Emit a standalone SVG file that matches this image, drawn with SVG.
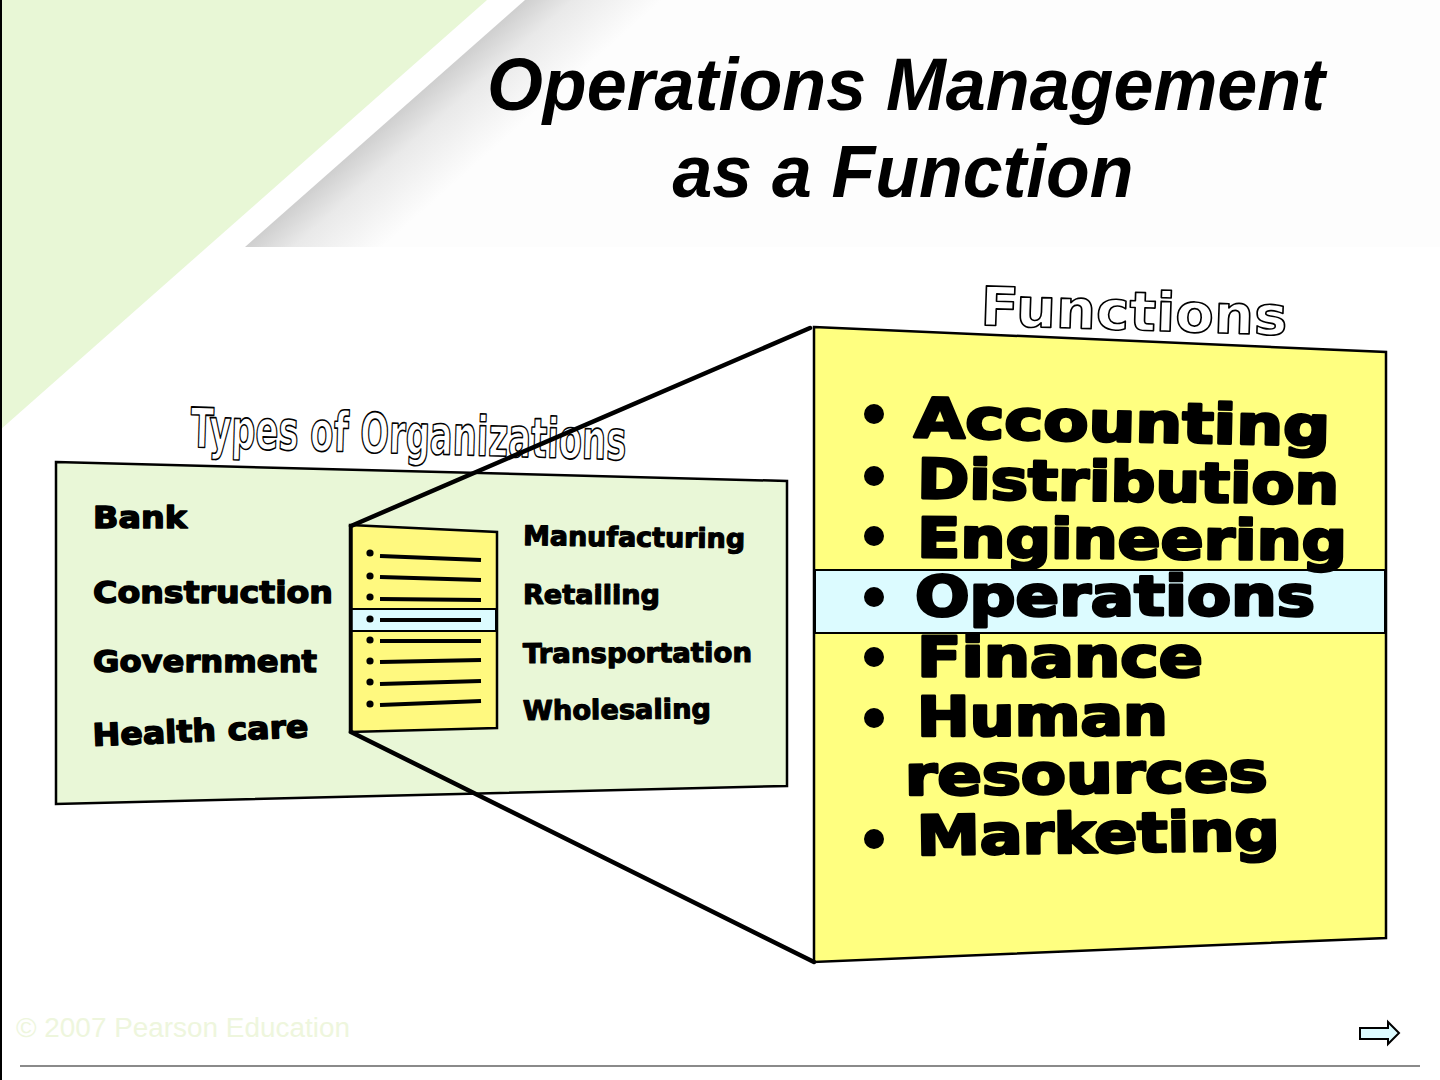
<svg xmlns="http://www.w3.org/2000/svg" width="1440" height="1080" viewBox="0 0 1440 1080">
  <defs>
    <linearGradient id="bandShade" gradientUnits="userSpaceOnUse" x1="385" y1="124" x2="445" y2="192">
      <stop offset="0" stop-color="#cfcfcf"/>
      <stop offset="0.35" stop-color="#e9e9e9"/>
      <stop offset="1" stop-color="#fdfdfd"/>
    </linearGradient>
    <style>
      .heavy { font-family: "DejaVu Sans", "Liberation Sans", sans-serif; font-weight: bold; fill: #000; stroke: #000; stroke-linejoin: round; }
      .big { font-size: 55px; stroke-width: 2.8; }
      .org { font-size: 31px; stroke-width: 1.5; }
      .orgR { font-size: 27px; stroke-width: 1.2; }
      .outline { fill: #fff; stroke: #000; stroke-width: 1.6; stroke-linejoin: round; font-weight: bold; }
      .title { font-family: "Liberation Sans", Arial, sans-serif; font-weight: bold; font-style: italic; font-size: 75px; fill: #000; }
      .link { stroke: #000; stroke-width: 4.5; stroke-linecap: round; fill: none; }
      .dot { fill: #000; }
      .rule { stroke: #000; stroke-width: 4; stroke-linecap: butt; }
    </style>
  </defs>

  <!-- page background -->
  <g id="background">
    <rect x="0" y="0" width="1440" height="1080" fill="#ffffff"/>
    <polygon points="0,0 487,0 0,430" fill="#e8f7d6"/>
    <polygon points="525,0 1440,0 1440,247 245,247" fill="url(#bandShade)"/>
    <line x1="1" y1="0" x2="1" y2="1080" stroke="#000" stroke-width="2"/>
  </g>

  <!-- heading -->
  <g id="title">
    <text class="title" x="906" y="110" text-anchor="middle" textLength="838" lengthAdjust="spacingAndGlyphs">Operations Management</text>
    <text class="title" x="903" y="197" text-anchor="middle" textLength="461" lengthAdjust="spacingAndGlyphs">as a Function</text>
  </g>

  <!-- organisation types panel -->
  <g id="panel-orgs">
    <polygon points="56,462 787,481 787,786 56,804" fill="#e9f7d7" stroke="#000" stroke-width="2.5"/>
    <text class="outline" x="190" y="447" font-family="'Liberation Sans Narrow', 'DejaVu Sans Condensed', sans-serif" font-size="55" textLength="436" lengthAdjust="spacingAndGlyphs" transform="rotate(1.7 190 447)">Types of Organizations</text>
    <text class="heavy org" x="93" y="528" textLength="94" lengthAdjust="spacingAndGlyphs">Bank</text>
    <text class="heavy org" x="93" y="603" textLength="240" lengthAdjust="spacingAndGlyphs">Construction</text>
    <text class="heavy org" x="93" y="672" textLength="224" lengthAdjust="spacingAndGlyphs">Government</text>
    <text class="heavy org" x="93" y="746" textLength="216" lengthAdjust="spacingAndGlyphs" transform="rotate(-2.4 93 746)">Health care</text>
    <text class="heavy orgR" x="523" y="545" textLength="222" lengthAdjust="spacingAndGlyphs" transform="rotate(0.8 523 545)">Manufacturing</text>
    <text class="heavy orgR" x="523" y="604" textLength="137" lengthAdjust="spacingAndGlyphs">Retailing</text>
    <text class="heavy orgR" x="523" y="663" textLength="229" lengthAdjust="spacingAndGlyphs" transform="rotate(-0.3 523 663)">Transportation</text>
    <text class="heavy orgR" x="523" y="720" textLength="188" lengthAdjust="spacingAndGlyphs" transform="rotate(-0.6 523 720)">Wholesaling</text>
  </g>

  <!-- small list sheet inside the organisation panel -->
  <g id="org-list">
    <polygon points="350,525 497,532 497,728 350,732" fill="#fff97f" stroke="#000" stroke-width="2.5"/>
    <rect x="351" y="609" width="145" height="22" fill="#dcfbff" stroke="#000" stroke-width="2"/>
    <line x1="351" y1="525" x2="351" y2="732" stroke="#000" stroke-width="3.5"/>
    <circle class="dot" cx="370" cy="553" r="3.6"/>
    <circle class="dot" cx="370" cy="576" r="3.6"/>
    <circle class="dot" cx="370" cy="597" r="3.6"/>
    <circle class="dot" cx="370" cy="619" r="3.6"/>
    <circle class="dot" cx="370" cy="640" r="3.6"/>
    <circle class="dot" cx="370" cy="661" r="3.6"/>
    <circle class="dot" cx="370" cy="682" r="3.6"/>
    <circle class="dot" cx="370" cy="704" r="3.6"/>
    <line class="rule" x1="380" y1="556" x2="481" y2="560"/>
    <line class="rule" x1="380" y1="577" x2="481" y2="580"/>
    <line class="rule" x1="380" y1="599" x2="481" y2="600"/>
    <line class="rule" x1="380" y1="620" x2="481" y2="620"/>
    <line class="rule" x1="380" y1="641" x2="481" y2="641"/>
    <line class="rule" x1="380" y1="662" x2="481" y2="660"/>
    <line class="rule" x1="380" y1="684" x2="481" y2="681"/>
    <line class="rule" x1="380" y1="705" x2="481" y2="701"/>
  </g>

  <!-- functions panel -->
  <g id="panel-functions">
    <polygon points="814,327 1386,352 1386,938 814,962" fill="#ffff80" stroke="#000" stroke-width="2.5"/>
    <rect x="815" y="570" width="570" height="63" fill="#dcfbff" stroke="#000" stroke-width="2"/>
    <text class="outline" x="980" y="325" font-family="'DejaVu Sans', 'Liberation Sans', sans-serif" font-size="54" textLength="307" lengthAdjust="spacingAndGlyphs" transform="rotate(1.9 980 325)">Functions</text>
    <circle class="dot" cx="874" cy="414" r="10"/>
    <circle class="dot" cx="874" cy="476" r="10"/>
    <circle class="dot" cx="874" cy="536" r="10"/>
    <circle class="dot" cx="874" cy="597" r="10"/>
    <circle class="dot" cx="874" cy="657" r="10"/>
    <circle class="dot" cx="874" cy="718" r="10"/>
    <circle class="dot" cx="874" cy="839" r="10"/>
    <text class="heavy big" x="914" y="437" textLength="416" lengthAdjust="spacingAndGlyphs" transform="rotate(1.2 914 437)">Accounting</text>
    <text class="heavy big" x="917" y="498" textLength="422" lengthAdjust="spacingAndGlyphs" transform="rotate(0.8 917 498)">Distribution</text>
    <text class="heavy big" x="917" y="557" textLength="430" lengthAdjust="spacingAndGlyphs" transform="rotate(0.4 917 557)">Engineering</text>
    <text class="heavy big" x="915" y="615" textLength="400" lengthAdjust="spacingAndGlyphs">Operations</text>
    <text class="heavy big" x="917" y="676" textLength="286" lengthAdjust="spacingAndGlyphs">Finance</text>
    <text class="heavy big" x="917" y="736" textLength="251" lengthAdjust="spacingAndGlyphs" transform="rotate(-0.3 917 736)">Human</text>
    <text class="heavy big" x="905" y="795" textLength="363" lengthAdjust="spacingAndGlyphs" transform="rotate(-0.6 905 795)">resources</text>
    <text class="heavy big" x="917" y="855" textLength="363" lengthAdjust="spacingAndGlyphs" transform="rotate(-0.8 917 855)">Marketing</text>
  </g>

  <!-- zoom lines from the list sheet to the functions panel -->
  <g id="connectors">
    <line class="link" x1="351" y1="526" x2="810" y2="328"/>
    <line class="link" x1="351" y1="732" x2="814" y2="962"/>
  </g>

  <!-- footer -->
  <g id="footer">
    <text x="16" y="1037" font-family="'Liberation Sans', Arial, sans-serif" font-size="27" fill="#eef6dd" textLength="334" lengthAdjust="spacingAndGlyphs">© 2007 Pearson Education</text>
    <line x1="20" y1="1066" x2="1420" y2="1066" stroke="#8a8a8a" stroke-width="2"/>
    <polygon points="1360,1028 1388,1028 1388,1022 1399,1033 1388,1044 1388,1039 1360,1039" fill="#dcfbff" stroke="#000" stroke-width="2" stroke-linejoin="miter"/>
  </g>
</svg>
